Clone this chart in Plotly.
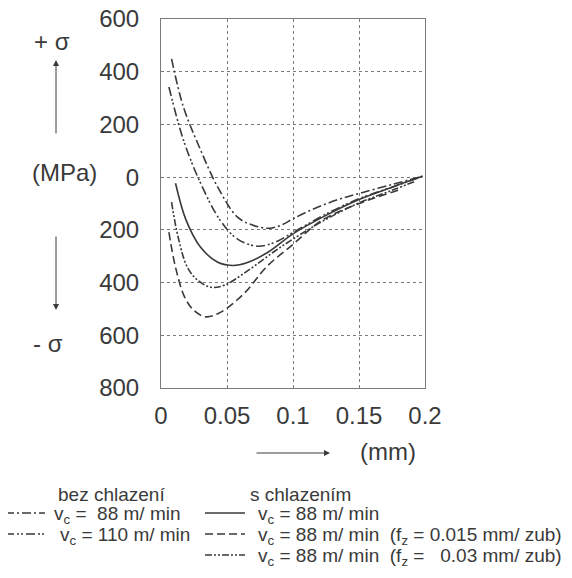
#!/usr/bin/env python3
"""
Residual stress profile vs depth under the milled surface, with / without cooling.
"""
import plotly.graph_objects as go

# depth (mm) and residual stress (MPa)
X_DRY_88 = [0.008, 0.017, 0.030, 0.043, 0.058, 0.070, 0.082, 0.092, 0.100, 0.115, 0.133, 0.150, 0.175, 0.198]
Y_DRY_88 = [449, 266, 103, -38, -152, -183, -194, -180, -158, -122, -87, -62, -28, 3]

X_DRY_110 = [0.006, 0.017, 0.030, 0.045, 0.058, 0.073, 0.085, 0.100, 0.125, 0.150, 0.175, 0.198]
Y_DRY_110 = [342, 141, -23, -165, -235, -262, -250, -210, -140, -82, -38, 3]

X_WET_88 = [0.011, 0.019, 0.030, 0.043, 0.055, 0.065, 0.081, 0.100, 0.125, 0.150, 0.175, 0.198]
Y_WET_88 = [-23, -163, -266, -323, -335, -325, -285, -215, -145, -85, -38, 3]

X_WET_FZ015 = [0.006, 0.011, 0.018, 0.025, 0.034, 0.045, 0.063, 0.080, 0.100, 0.120, 0.140, 0.160, 0.180]
Y_WET_FZ015 = [-209, -342, -456, -506, -530, -513, -441, -340, -255, -170, -120, -82, -49]

X_WET_FZ03 = [0.008, 0.013, 0.020, 0.028, 0.038, 0.048, 0.066, 0.085, 0.100, 0.125, 0.150, 0.175, 0.193]
Y_WET_FZ03 = [-95, -228, -342, -392, -418, -410, -354, -285, -235, -160, -98, -50, -15]

X_TICKS = [0, 0.05, 0.1, 0.15, 0.2]
X_TICKTEXT = ["0", "0.05", "0.1", "0.15", "0.2"]
Y_TICKS = [-800, -600, -400, -200, 0, 200, 400, 600]
Y_TICKTEXT = ["800", "600", "400", "200", "0", "200", "400", "600"]

INK = "#3a3a3a"
FONT = "Arial, Liberation Sans, sans-serif"

DASH = {
    "dashdot": "9px,3px,2px,3px",
    "dashdotdot": "9px,3px,2px,2px,2px,3px",
    "solid": "solid",
    "dash": "8px,4px",
    "dashdotdot2": "7px,2px,2px,2px,2px,2px",
}

SERIES = [
    (X_DRY_88, Y_DRY_88, "dashdot"),
    (X_DRY_110, Y_DRY_110, "dashdotdot"),
    (X_WET_88, Y_WET_88, "solid"),
    (X_WET_FZ015, Y_WET_FZ015, "dash"),
    (X_WET_FZ03, Y_WET_FZ03, "dashdotdot2"),
]

# plot area in screen pixels (page body adds 8px offset)
L, R, T, B = 161, 425, 19, 388
OFF = 8
FIG_W, FIG_H = 572, 570


def px(x):
    return (x - L) / (R - L)


def py(y):
    return (B - y) / (B - T)


fig = go.Figure()
for xs, ys, style in SERIES:
    fig.add_trace(go.Scatter(
        x=xs, y=ys, mode="lines",
        line=dict(color=INK, width=1.6, dash=DASH[style], shape="spline"),
        showlegend=False,
    ))

ann = []


def text(x, y, s, size=24, anchor="center"):
    ann.append(dict(x=px(x), y=py(y), xref="paper", yref="paper", text=s,
                    showarrow=False, xanchor=anchor, yanchor="middle",
                    font=dict(size=size, color=INK, family=FONT)))


def arrow(x, y, ax, ay):
    ann.append(dict(x=px(x), y=py(y), xref="paper", yref="paper", text="",
                    showarrow=True, ax=ax, ay=ay, arrowhead=2, arrowsize=1.2,
                    arrowwidth=1, arrowcolor=INK))


text(52, 41, "+ σ")
arrow(56, 60, 0, 75)
text(64, 172, "(MPa)")
arrow(56, 310, 0, -75)
text(48, 343, "- σ")
text(388, 451, "(mm)")
arrow(330, 453, -75, 0)

# legend, drawn by hand to match the two-column layout
LEG = 19
text(56, 494, "bez chlazení", size=LEG, anchor="left")
text(248, 494, "s chlazením", size=LEG, anchor="left")
text(52, 515, "v<sub>c</sub> = &nbsp;88 m/ min", size=LEG, anchor="left")
text(58, 536, "v<sub>c</sub> = 110 m/ min", size=LEG, anchor="left")
text(256, 515, "v<sub>c</sub> = 88 m/ min", size=LEG, anchor="left")
text(256, 536, "v<sub>c</sub> = 88 m/ min &nbsp;(f<sub>z</sub> = 0.015 mm/ zub)", size=LEG, anchor="left")
text(256, 557, "v<sub>c</sub> = 88 m/ min &nbsp;(f<sub>z</sub> = &nbsp;&nbsp;0.03 mm/ zub)", size=LEG, anchor="left")

shapes = []
for x0, x1, y, style in [(5, 45, 513, "dashdot"), (5, 45, 534, "dashdotdot"),
                         (205, 245, 513, "solid"), (205, 245, 534, "dash"),
                         (205, 245, 555, "dashdotdot2")]:
    shapes.append(dict(type="line", xref="paper", yref="paper",
                       x0=px(x0), x1=px(x1), y0=py(y), y1=py(y),
                       line=dict(color=INK, width=1.6, dash=DASH[style])))

axis_common = dict(
    showline=True, mirror=True, linecolor="#7a7a7a", linewidth=1,
    showgrid=True, gridcolor="#7a7a7a", gridwidth=1, griddash="dot",
    zeroline=False, ticks="", automargin=False, ticklabeloverflow="allow",
    tickfont=dict(size=24, color=INK, family=FONT),
)

fig.update_layout(
    width=FIG_W, height=FIG_H,
    margin=dict(l=L - OFF, r=FIG_W - (R - OFF), t=T - OFF, b=FIG_H - (B - OFF)),
    paper_bgcolor="white", plot_bgcolor="white",
    xaxis=dict(range=[0, 0.2], tickmode="array", tickvals=X_TICKS,
               ticktext=X_TICKTEXT, ticklabelstandoff=6, **axis_common),
    yaxis=dict(range=[-800, 600], tickmode="array", tickvals=Y_TICKS,
               ticktext=Y_TICKTEXT, ticklabelstandoff=16, **axis_common),
    annotations=ann,
    shapes=shapes,
    showlegend=False,
)

fig.write_html("out.html")
